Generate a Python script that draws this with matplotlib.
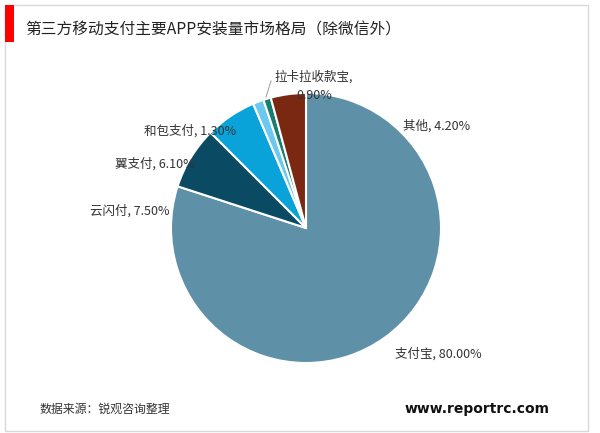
import matplotlib
matplotlib.use("Agg")
import matplotlib.pyplot as plt
from matplotlib.patches import Rectangle

plt.rcParams['font.family'] = ['Noto Sans CJK SC', 'DejaVu Sans']

categories = ['支付宝', '云闪付', '翼支付', '和包支付', '拉卡拉收款宝', '其他']
shares = [80.0, 7.5, 6.1, 1.3, 0.9, 4.2]
colors = ['#5E90A8', '#0B4A63', '#0AA3D9', '#6CC8EE', '#177E70', '#7B2812']
label_texts = ['支付宝, 80.00%', '云闪付, 7.50%', '翼支付, 6.10%',
               '和包支付, 1.30%', '拉卡拉收款宝,\n0.90%', '其他, 4.20%']
# label centre positions in pixels (x, y from top)
label_px = [(438, 354), (130, 211), (155, 164), (190, 131), (314, 86), (437, 126)]

W, H = 600, 433
fig = plt.figure(figsize=(W / 100, H / 100), dpi=100)
fig.patch.set_facecolor('white')

# frame and title bar
fig.add_artist(Rectangle((5 / W, 1 - 431 / H), 583 / W, 426 / H, transform=fig.transFigure,
                         fill=False, edgecolor='#D9D9D9', linewidth=1.0))
fig.add_artist(Rectangle((5 / W, 1 - 42 / H), 9 / W, 37 / H, transform=fig.transFigure,
                         facecolor='#FF0000', edgecolor='none'))
fig.text(25 / W, 1 - 30 / H, '第三方移动支付主要APP安装量市场格局（除微信外）',
         fontsize=11.3, color='#222222', ha='left', va='center')
fig.text(40 / W, 1 - 409 / H, '数据来源：锐观咨询整理', fontsize=8.6,
         color='#333333', ha='left', va='center')
fig.text(477 / W, 1 - 409 / H, 'www.reportrc.com', fontsize=10, fontweight='bold',
         color='#111111', ha='center', va='center', family=['DejaVu Sans'])

cx, cy, r = 306, 228, 135
ax = fig.add_axes([(cx - r) / W, 1 - (cy + r) / H, 2 * r / W, 2 * r / H])
ax.pie(shares, colors=colors, startangle=90, counterclock=False,
       wedgeprops=dict(edgecolor='white', linewidth=1.5))
ax.set_xlim(-1, 1)
ax.set_ylim(-1, 1)
ax.set_aspect('equal')
ax.axis('off')

for txt, (px, py) in zip(label_texts, label_px):
    ax.text((px - cx) / r, (cy - py) / r, txt, fontsize=9, color='#333333',
            ha='center', va='center', linespacing=1.5, clip_on=False)

# leader line for 拉卡拉收款宝
ax.plot([(266 - cx) / r, (271 - cx) / r], [(cy - 97) / r, (cy - 81) / r],
        color='#A6A6A6', linewidth=0.8, clip_on=False)

fig.savefig('out.png', dpi=100, facecolor='white')
